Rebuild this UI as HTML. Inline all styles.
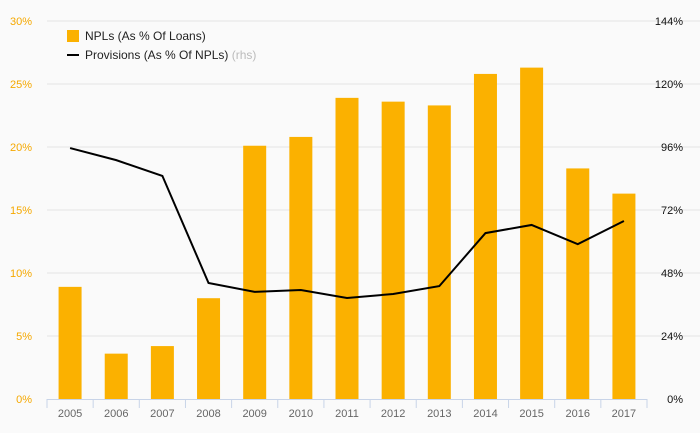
<!DOCTYPE html>
<html><head><meta charset="utf-8"><style>
body{margin:0;background:#fafafa;font-family:"Liberation Sans",sans-serif}
</style></head><body>
<svg id="c" width="700" height="433" style="display:block;background:#fafafa"></svg>
<script>
const years=["2005","2006","2007","2008","2009","2010","2011","2012","2013","2014","2015","2016","2017"];
const npls=[8.9,3.6,4.2,8.0,20.1,20.8,23.9,23.6,23.3,25.8,26.3,18.3,16.3];
const provisions=[95.6,91,85,44.2,40.8,41.5,38.5,40,43,63.2,66.3,59,67.8];
const leftTicks=[0,5,10,15,20,25,30];
const rightTicks=[0,24,48,72,96,120,144];
const NS="http://www.w3.org/2000/svg",svg=document.getElementById('c');
const x0=47,x1=647,y0=399,y1=21,step=(x1-x0)/years.length;
const xc=i=>x0+step*(i+0.5);
const yl=v=>y0-(v/30)*(y0-y1);
const yr=v=>y0-(v/144)*(y0-y1);
function mk(t,a,txt){const e=document.createElementNS(NS,t);for(const k in a)e.setAttribute(k,a[k]);if(txt!=null)e.textContent=txt;svg.appendChild(e);return e;}
leftTicks.forEach((v,i)=>{
 if(v>0){const g=mk('line',{x1:x0,x2:700,y1:yl(v),y2:yl(v),stroke:'#e4e4e4'});
 
 }
 const t=mk('text',{x:32,y:yl(v)+4,'text-anchor':'end','font-size':11,fill:'#f5a800'},v+'%');
 
 
});
rightTicks.forEach(v=>{
 const t=mk('text',{x:683,y:yr(v)+4,'text-anchor':'end','font-size':11,fill:'#111'},v+'%');
 
 
});
npls.forEach((v,i)=>{
 const b=mk('rect',{x:xc(i)-11.5,y:yl(v),width:23,height:y0-yl(v),fill:'#fbb100'});
 
 
});
const ax=mk('line',{x1:x0,x2:x1,y1:y0+0.5,y2:y0+0.5,stroke:'#c8d4e8'});


for(let i=0;i<=years.length;i++){
 const tk=mk('line',{x1:x0+step*i,x2:x0+step*i,y1:y0,y2:y0+9,stroke:'#c8d4e8'});
 
 
}
years.forEach((y,i)=>{
 const t=mk('text',{x:xc(i),y:417,'text-anchor':'middle','font-size':11,fill:'#666'},y);
 
 
});
const ln=mk('polyline',{points:provisions.map((v,i)=>xc(i)+','+yr(v)).join(' '),fill:'none',stroke:'#000','stroke-width':2});


const l1=mk('rect',{x:67,y:30,width:12,height:12,fill:'#fbb100'});


const t1=mk('text',{x:85,y:40,'font-size':12,fill:'#222'},'NPLs (As % Of Loans)');


const l2=mk('line',{x1:67,x2:79,y1:55,y2:55,stroke:'#000','stroke-width':2});


const t2=mk('text',{x:85,y:59,'font-size':12,fill:'#222'},'Provisions (As % Of NPLs) ');


const ts=document.createElementNS(NS,'tspan');ts.setAttribute('fill','#bbb');ts.textContent='(rhs)';t2.appendChild(ts);
</script>
</body></html>
